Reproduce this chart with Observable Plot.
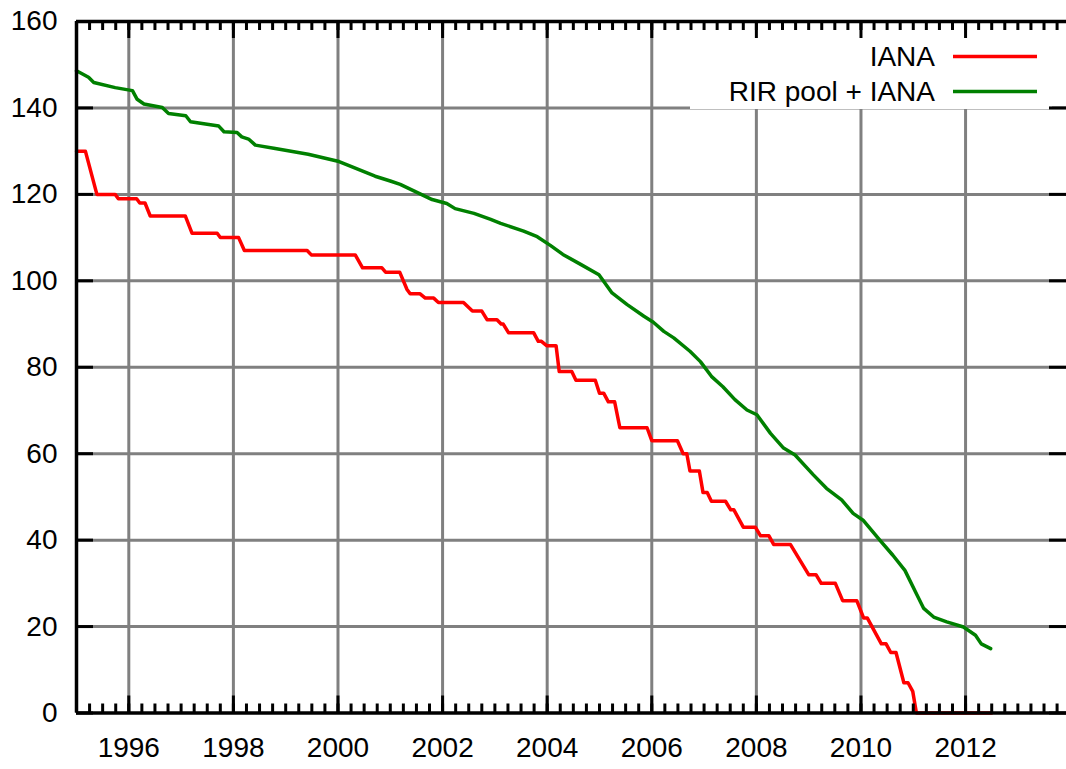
<!DOCTYPE html>
<html>
<head>
<meta charset="utf-8">
<script src="https://cdn.jsdelivr.net/npm/d3@7"></script>
<script src="https://cdn.jsdelivr.net/npm/@observablehq/plot@0.6"></script>
<style>
  html, body { margin: 0; padding: 0; background: #fff; overflow: hidden; }
  #chart svg { display: block; }
</style>
</head>
<body>
<div id="chart"></div>
<script>
// ---- Data ----
const seriesNames = ["IANA", "RIR pool + IANA"];
const seriesColors = ["#ff0000", "#008000"];

const ianaYears = [1995.00,1995.17,1995.39,1995.74,1995.80,1996.15,1996.21,1996.31,1996.41,1997.08,1997.21,1997.69,1997.75,1998.10,1998.21,1999.41,1999.49,2000.33,2000.47,2000.84,2000.91,2001.18,2001.32,2001.38,2001.57,2001.67,2001.83,2001.92,2002.40,2002.57,2002.75,2002.85,2003.04,2003.12,2003.16,2003.26,2003.74,2003.83,2003.89,2003.99,2004.17,2004.23,2004.47,2004.55,2004.92,2005.00,2005.08,2005.17,2005.29,2005.39,2005.91,2006.00,2006.49,2006.60,2006.67,2006.73,2006.91,2006.98,2007.06,2007.14,2007.41,2007.51,2007.57,2007.75,2007.98,2008.08,2008.24,2008.33,2008.65,2009.00,2009.14,2009.24,2009.51,2009.65,2009.92,2010.05,2010.12,2010.39,2010.48,2010.57,2010.67,2010.82,2010.90,2010.99,2011.06,2012.50];
const ianaValues = [130,130,120,120,119,119,118,118,115,115,111,111,110,110,107,107,106,106,103,103,102,102,98,97,97,96,96,95,95,93,93,91,91,90,90,88,88,86,86,85,85,79,79,77,77,74,74,72,72,66,66,63,63,60,60,56,56,51,51,49,49,47,47,43,43,41,41,39,39,32,32,30,30,26,26,22,22,16,16,14,14,7,7,5,0,0];

const rirYears = [1995.00,1995.23,1995.33,1995.74,1996.07,1996.16,1996.29,1996.64,1996.76,1997.09,1997.18,1997.72,1997.82,1998.07,1998.16,1998.29,1998.42,1998.80,1999.43,2000.02,2000.14,2000.71,2001.00,2001.19,2001.45,2001.80,2002.08,2002.24,2002.60,2002.92,2003.11,2003.55,2003.81,2004.06,2004.30,2004.64,2004.99,2005.24,2005.53,2005.85,2006.03,2006.23,2006.42,2006.73,2006.93,2007.14,2007.36,2007.59,2007.82,2008.01,2008.27,2008.52,2008.74,2009.09,2009.34,2009.63,2009.85,2010.04,2010.36,2010.61,2010.84,2011.06,2011.20,2011.39,2011.64,2011.96,2012.19,2012.30,2012.48];
const rirValues = [148.6,147.1,145.9,144.7,144.0,142.0,140.9,140.1,138.7,138.2,136.8,135.8,134.5,134.3,133.3,132.8,131.4,130.6,129.3,127.6,127.0,124.2,123.1,122.3,120.8,118.8,117.9,116.7,115.6,114.2,113.3,111.5,110.2,108.2,106.1,103.8,101.4,97.2,94.5,91.8,90.4,88.3,86.8,83.7,81.3,77.9,75.5,72.5,70.1,69.0,64.7,61.3,59.7,55.1,52.0,49.3,46.2,44.6,40.0,36.5,33.0,27.6,24.2,22.2,21.1,19.9,18.0,16.0,14.9];

const yTicks = [0, 20, 40, 60, 80, 100, 120, 140, 160];
const yTickLabels = ["0", "20", "40", "60", "80", "100", "120", "140", "160"];
const xMajorTicks = [1996, 1998, 2000, 2002, 2004, 2006, 2008, 2010, 2012];
const xTickLabels = ["1996", "1998", "2000", "2002", "2004", "2006", "2008", "2010", "2012"];
const xMinorTicks = d3.range(1995, 2013.9, 0.25);

// ---- Build tables ----
const iana = ianaYears.map((y, i) => ({year: y, value: ianaValues[i]}));
const rir = rirYears.map((y, i) => ({year: y, value: rirValues[i]}));

// ---- Layout ----
const W = 1066, H = 769;
const mL = 76, mR = 0, mT = 21, mB = 56.5;
const xMin = 1995, xMax = 2013.93, yMin = 0, yMax = 160;
const pxX = (xMax - xMin) / (W - mL - mR);   // data units per px
const pxY = (yMax - yMin) / (H - mT - mB);
const majorLen = 17, minorLen = 9;
const font = "'Liberation Sans', Arial, Helvetica, sans-serif";

const chart = Plot.plot({
  width: W, height: H,
  marginLeft: mL, marginRight: mR, marginTop: mT, marginBottom: mB,
  x: {domain: [xMin, xMax]},
  y: {domain: [yMin, yMax]},
  style: {fontFamily: font, background: "#fff"},
  marks: [
    // grid
    Plot.ruleX(xMajorTicks, {stroke: "#808080", strokeWidth: 3}),
    Plot.ruleY(yTicks.filter(d => d > yMin && d < yMax), {stroke: "#808080", strokeWidth: 3}),
    // data lines
    Plot.line(iana, {x: "year", y: "value", stroke: seriesColors[0], strokeWidth: 3.5, strokeLinejoin: "round", strokeLinecap: "round"}),
    Plot.line(rir, {x: "year", y: "value", stroke: seriesColors[1], strokeWidth: 3.5, strokeLinejoin: "round", strokeLinecap: "round"}),
    // frame (left, bottom, top)
    Plot.ruleY([yMin, yMax], {stroke: "black", strokeWidth: 3.5}),
    Plot.ruleX([xMin], {stroke: "black", strokeWidth: 3.5}),
    // minor x ticks (bottom & top)
    Plot.ruleX(xMinorTicks, {y1: yMin, y2: yMin + minorLen * pxY, stroke: "black", strokeWidth: 3}),
    Plot.ruleX(xMinorTicks, {y1: yMax, y2: yMax - minorLen * pxY, stroke: "black", strokeWidth: 3}),
    // major x ticks
    Plot.ruleX(xMajorTicks, {y1: yMin, y2: yMin + majorLen * pxY, stroke: "black", strokeWidth: 3}),
    Plot.ruleX(xMajorTicks, {y1: yMax, y2: yMax - majorLen * pxY, stroke: "black", strokeWidth: 3}),
    // y ticks (left & right)
    Plot.ruleY(yTicks, {x1: xMin, x2: xMin + majorLen * pxX, stroke: "black", strokeWidth: 3}),
    Plot.ruleY(yTicks, {x1: xMax, x2: xMax - majorLen * pxX, stroke: "black", strokeWidth: 3}),
    // tick labels
    Plot.axisX(xMajorTicks, {anchor: "bottom", tickSize: 0, tickPadding: 24.5, fontSize: 28, label: null,
      tickFormat: d => xTickLabels[xMajorTicks.indexOf(d)], fill: "black"}),
    Plot.axisY(yTicks, {anchor: "left", tickSize: 0, tickPadding: 19, fontSize: 28, label: null,
      tickFormat: d => yTickLabels[yTicks.indexOf(d)], fill: "black"})
  ]
});

document.getElementById("chart").appendChild(chart);

// ---- Legend (opaque key box above grid, below lines/ticks) ----
const ns = "http://www.w3.org/2000/svg";
const firstLine = chart.querySelector('g[aria-label="line"]');
const box = document.createElementNS(ns, "rect");
box.setAttribute("x", 690); box.setAttribute("y", 23);
box.setAttribute("width", 362); box.setAttribute("height", 86);
box.setAttribute("fill", "#fff");
chart.insertBefore(box, firstLine);

const legend = d3.select(chart).append("g").attr("font-family", font).attr("font-size", 28);
const rowY = [56.5, 91.5];
seriesNames.forEach((name, i) => {
  legend.append("text")
    .attr("x", 935).attr("y", rowY[i]).attr("dy", "0.33em")
    .attr("text-anchor", "end").attr("fill", "black").text(name);
  legend.append("line")
    .attr("x1", 953).attr("x2", 1037).attr("y1", rowY[i]).attr("y2", rowY[i])
    .attr("stroke", seriesColors[i]).attr("stroke-width", 3.5);
});
</script>
</body>
</html>
